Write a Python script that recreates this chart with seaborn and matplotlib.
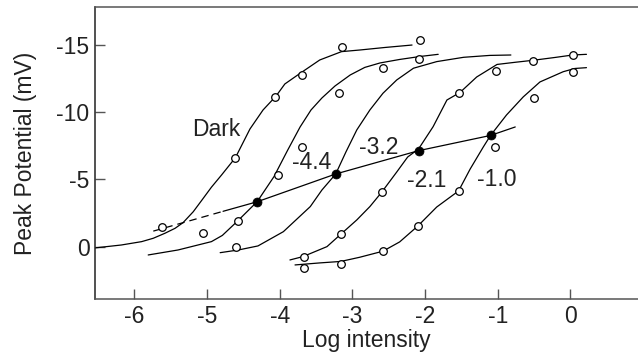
import matplotlib
matplotlib.use("Agg")
import matplotlib.pyplot as plt
import seaborn as sns
import pandas as pd

# Peak receptor potential (mV, negative = hyperpolarising) against log stimulus
# intensity, measured in the dark and under four background (adapting) levels.
adapt_levels = ["Dark", "-4.4", "-3.2", "-2.1", "-1.0"]

# Fitted intensity-response curves
dark_x = [-6.55, -6.18, -5.90, -5.74, -5.58, -5.44, -5.33, -5.19, -5.07, -4.94, -4.80,
          -4.61, -4.41, -4.23, -4.05, -3.93, -3.72, -3.45, -3.15, -2.90, -2.55, -2.18]
dark_y = [0.09, -0.13, -0.38, -0.63, -1.00, -1.37, -1.79, -2.60, -3.47, -4.42, -5.33,
          -6.61, -8.74, -10.15, -11.19, -12.08, -12.87, -13.86, -14.48, -14.60, -14.79, -14.97]

m44_x = [-5.81, -5.40, -4.94, -4.79, -4.58, -4.31, -4.08, -3.89, -3.72, -3.57, -3.42,
         -3.24, -3.03, -2.83, -2.62, -2.35, -2.07, -1.82]
m44_y = [0.61, 0.24, -0.38, -0.84, -1.91, -3.35, -5.20, -7.18, -8.89, -10.15, -11.04,
         -11.93, -12.75, -13.31, -13.64, -13.90, -14.12, -14.28]

m32_x = [-4.82, -4.57, -4.30, -3.95, -3.58, -3.42, -3.23, -3.09, -2.94, -2.76, -2.58,
         -2.39, -2.16, -1.84, -1.47, -1.11, -0.82]
m32_y = [0.44, 0.24, -0.06, -1.12, -2.98, -4.21, -5.40, -7.03, -8.67, -10.15, -11.39,
         -12.38, -13.25, -13.74, -14.06, -14.20, -14.23]

m21_x = [-3.86, -3.68, -3.35, -3.16, -2.94, -2.76, -2.60, -2.39, -2.24, -2.09, -1.89,
         -1.70, -1.52, -1.29, -1.01, -0.76, -0.51, -0.21, 0.03, 0.22]
m21_y = [0.98, 0.73, -0.01, -0.93, -1.99, -2.98, -4.03, -5.55, -6.66, -7.26, -8.91,
         -10.89, -11.45, -12.60, -13.53, -13.69, -13.84, -14.05, -14.23, -14.28]

m10_x = [-3.79, -3.45, -3.16, -2.90, -2.58, -2.35, -2.10, -1.84, -1.54, -1.38, -1.20,
         -1.10, -0.88, -0.65, -0.42, -0.10, 0.06, 0.22]
m10_y = [1.35, 1.20, 1.09, 0.78, 0.33, -0.36, -1.54, -2.95, -4.14, -5.77, -7.40,
         -8.26, -9.78, -11.12, -12.23, -12.99, -13.23, -13.29]

# Measured responses (open circles)
dark_obs_x = [-5.62, -4.61, -4.06, -3.70, -3.15, -2.07]
dark_obs_y = [-1.45, -6.61, -11.08, -12.75, -14.85, -15.35]

m44_obs_x = [-5.05, -4.58, -4.02, -3.70, -3.18, -2.58, -2.08]
m44_obs_y = [-1.05, -1.91, -5.33, -7.43, -11.44, -13.25, -13.91]

m32_obs_x = [-4.60]
m32_obs_y = [-0.01]

m21_obs_x = [-3.67, -3.16, -2.60, -1.53, -1.03, -0.51, 0.03]
m21_obs_y = [0.73, -0.91, -4.03, -11.39, -13.07, -13.81, -14.23]

m10_obs_x = [-3.67, -3.16, -2.58, -2.10, -1.54, -1.04, -0.50, 0.04]
m10_obs_y = [1.57, 1.30, 0.33, -1.54, -4.12, -7.38, -11.02, -12.97]

# Half-saturation points of the adapted curves (filled circles) and the line through them
half_x = [-4.31, -3.23, -2.09, -1.10]
half_y = [-3.34, -5.40, -7.13, -8.26]
half_line_x = [-4.78, -4.31, -3.23, -2.09, -1.10, -0.76]
half_line_y = [-2.63, -3.34, -5.40, -7.13, -8.26, -8.89]
half_ext_x = [-5.74, -4.78]
half_ext_y = [-1.16, -2.63]

# Label anchor positions for each curve
label_x = [-4.87, -3.56, -2.64, -1.98, -1.02]
label_y = [-8.67, -6.24, -7.37, -4.90, -4.96]

x_ticks = [-6, -5, -4, -3, -2, -1, 0]
y_ticks = [0, -5, -10, -15]

sns.set_theme(style="ticks")
plt.rcParams["font.family"] = ["Liberation Sans", "DejaVu Sans"]
plt.rcParams["axes.unicode_minus"] = False

text_color = "#222222"
frame_color = "#555555"
fsize = 16.5

fig = plt.figure(figsize=(6.38, 3.55), dpi=100)
ax = fig.add_axes([95 / 638, 1 - 299.3 / 355, (638 - 95) / 638, (299.3 - 7.3) / 355])

curves = [(dark_x, dark_y), (m44_x, m44_y), (m32_x, m32_y), (m21_x, m21_y), (m10_x, m10_y)]
observed = [(dark_obs_x, dark_obs_y), (m44_obs_x, m44_obs_y), (m32_obs_x, m32_obs_y),
            (m21_obs_x, m21_obs_y), (m10_obs_x, m10_obs_y)]

for cx, cy in curves:
    sns.lineplot(x=cx, y=cy, sort=False, estimator=None, color="black", lw=0.9, ax=ax)

# Line joining the half-saturation points, dashed where extrapolated
sns.lineplot(x=half_line_x, y=half_line_y, sort=False, estimator=None,
             color="black", lw=0.9, ax=ax)
ax.plot(half_ext_x, half_ext_y, color="black", lw=0.9, dashes=(6, 4))

obs = pd.DataFrame({
    "x": [v for ox, _ in observed for v in ox],
    "y": [v for _, oy in observed for v in oy],
})
sns.scatterplot(data=obs, x="x", y="y", marker="o", s=30, facecolor="white",
                edgecolor="black", linewidth=0.9, zorder=5, ax=ax)
sns.scatterplot(x=half_x, y=half_y, marker="o", s=42, color="black",
                edgecolor="black", linewidth=0.5, zorder=6, ax=ax)

for name, lx, ly in zip(adapt_levels, label_x, label_y):
    ax.text(lx, ly, name, fontsize=fsize, color=text_color, ha="center", va="center")

ax.set_xlim(-6.542, 0.929)
ax.set_ylim(3.90, -17.77)
ax.set_xticks(x_ticks)
ax.set_xticklabels([str(t) for t in x_ticks])
ax.set_yticks(y_ticks)
ax.set_yticklabels([str(t) for t in y_ticks])

ax.tick_params(axis="both", direction="in", length=7, width=1, color=frame_color,
               labelsize=fsize, labelcolor=text_color, pad=4)
ax.set_xlabel("Log intensity", fontsize=fsize, color=text_color, labelpad=1)
ax.set_ylabel("Peak Potential (mV)", fontsize=fsize, color=text_color, labelpad=14)

ax.spines["right"].set_visible(False)
ax.spines["left"].set_color("#222222")
for side in ("top", "bottom"):
    ax.spines[side].set_color(frame_color)
for side in ("top", "bottom", "left"):
    ax.spines[side].set_linewidth(1.1)

fig.savefig("out.png", dpi=100)
